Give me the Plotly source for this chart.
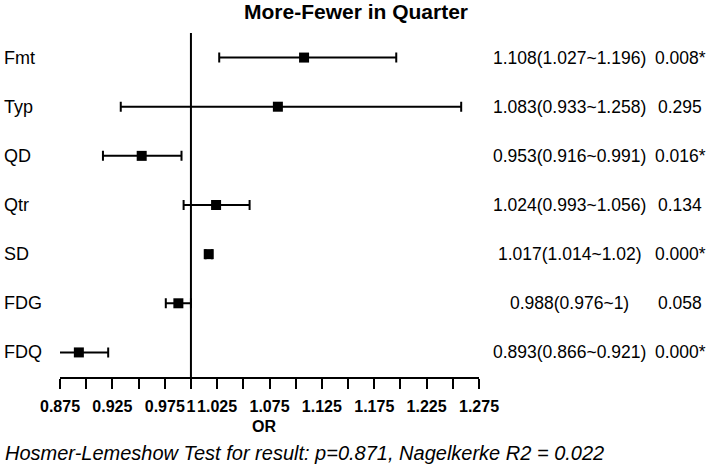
import plotly.graph_objects as go

# ---- data ----
labels = ["Fmt", "Typ", "QD", "Qtr", "SD", "FDG", "FDQ"]
odds_ratio = [1.108, 1.083, 0.953, 1.024, 1.017, 0.988, 0.893]
ci_low = [1.027, 0.933, 0.916, 0.993, 1.014, 0.976, 0.866]
ci_high = [1.196, 1.258, 0.991, 1.056, 1.020, 1.000, 0.921]
p_text = ["0.008*", "0.295", "0.016*", "0.134", "0.000*", "0.058", "0.000*"]
tick_vals = [0.875, 0.9, 0.925, 0.95, 0.975, 1.0, 1.025, 1.05, 1.075, 1.1,
             1.125, 1.15, 1.175, 1.2, 1.225, 1.25, 1.275]
tick_text = ["0.875", "", "0.925", "", "0.975", "1", "1.025", "", "1.075", "",
             "1.125", "", "1.175", "", "1.225", "", "1.275"]
title_text = "More-Fewer in Quarter"
axis_title = "OR"
footnote = "Hosmer-Lemeshow Test for result: p=0.871, Nagelkerke R2 = 0.022"

FONT = "Liberation Sans, Arial, sans-serif"

err_plus = [h - o for h, o in zip(ci_high, odds_ratio)]
err_minus = [o - l for o, l in zip(odds_ratio, ci_low)]
ci_text = [f"{o:g}({l:g}~{h:g})" for o, l, h in zip(odds_ratio, ci_low, ci_high)]

fig = go.Figure()
fig.add_trace(go.Scatter(
    x=odds_ratio, y=labels, mode="markers",
    marker=dict(symbol="square", size=10, color="black"),
    error_x=dict(type="data", symmetric=False, array=err_plus, arrayminus=err_minus,
                 color="black", thickness=2, width=5),
    showlegend=False, hoverinfo="skip",
))

# reference line at OR = 1
fig.add_shape(type="line", xref="x", yref="paper", x0=1, x1=1, y0=0, y1=1,
              line=dict(color="black", width=2))

ann = []
for lab, ct, pt in zip(labels, ci_text, p_text):
    ann.append(dict(x=-0.138, xref="paper", y=lab, yref="y", text=lab, showarrow=False,
                    xanchor="left", yanchor="middle", font=dict(family=FONT, size=18, color="black")))
    ann.append(dict(x=1.217, xref="paper", y=lab, yref="y", text=ct, showarrow=False,
                    xanchor="center", yanchor="middle", font=dict(family=FONT, size=17.5, color="black")))
    ann.append(dict(x=1.480, xref="paper", y=lab, yref="y", text=pt, showarrow=False,
                    xanchor="center", yanchor="middle", font=dict(family=FONT, size=17.5, color="black")))
ann.append(dict(x=0.488, xref="paper", y=-0.144, yref="paper", text=axis_title, showarrow=False,
                xanchor="center", yanchor="middle",
                font=dict(family=FONT, size=16, color="black", weight="bold")))
ann.append(dict(x=-0.136, xref="paper", y=-0.221, yref="paper", text=footnote, showarrow=False,
                xanchor="left", yanchor="middle",
                font=dict(family=FONT, size=20, color="black", style="italic")))

fig.update_layout(
    width=713, height=472,
    margin=dict(l=60, r=234, t=33, b=95),
    paper_bgcolor="white", plot_bgcolor="white",
    title=dict(text=title_text, xref="container", yref="container", x=0.4993, y=1 - 12 / 472,
               xanchor="center", yanchor="middle",
               font=dict(family=FONT, size=21, color="black", weight="bold")),
    annotations=ann,
    xaxis=dict(range=[0.875, 1.275], showgrid=False, zeroline=False,
               showline=True, linecolor="black", linewidth=2,
               ticks="outside", ticklen=10, tickwidth=2, tickcolor="black",
               tickmode="array", tickvals=tick_vals, ticktext=tick_text, tickangle=0,
               ticklabelstandoff=4,
               tickfont=dict(family=FONT, size=16, color="black", weight="bold")),
    yaxis=dict(type="category", categoryorder="array", categoryarray=labels[::-1],
               range=[-0.5, 6.5], showgrid=False, zeroline=False, showline=False,
               showticklabels=False, ticks=""),
)

fig.write_html("out.html")
